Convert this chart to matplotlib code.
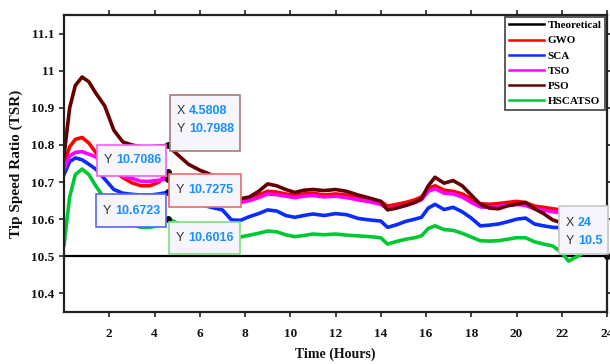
import matplotlib
matplotlib.use("Agg")
import matplotlib.pyplot as plt
from matplotlib.patches import Rectangle
from matplotlib.transforms import IdentityTransform

# ---------------- data ----------------
time_h = [0, 0.25, 0.5, 0.8, 1.1, 1.4, 1.8, 2.2, 2.6, 3.0, 3.4, 3.8, 4.2, 4.5808,
          5.0, 5.5, 6.0, 6.5, 7.0, 7.4, 7.8, 8.2, 8.6, 9.0, 9.4, 9.8, 10.2, 10.6,
          11.0, 11.5, 12.0, 12.5, 13.0, 13.5, 14.0, 14.3, 14.7, 15.1, 15.5, 15.8,
          16.1, 16.4, 16.8, 17.2, 17.6, 18.0, 18.4, 18.8, 19.2, 19.6, 20.0, 20.4,
          20.8, 21.2, 21.6, 22.0, 22.3, 22.6, 23.0, 23.5, 24.0]

theo_time = [0, 24]
theo_tsr = [10.5, 10.5]

gwo = [10.75, 10.795, 10.815, 10.82, 10.805, 10.78, 10.752, 10.73, 10.712, 10.698, 10.69, 10.69, 10.70, 10.7275,
       10.70, 10.685, 10.675, 10.665, 10.655, 10.648, 10.652, 10.657, 10.665, 10.675, 10.673, 10.668, 10.664, 10.668,
       10.67, 10.665, 10.668, 10.665, 10.66, 10.655, 10.648, 10.635, 10.64, 10.645, 10.652, 10.66,
       10.683, 10.69, 10.678, 10.675, 10.668, 10.655, 10.642, 10.64, 10.642, 10.645, 10.648, 10.645,
       10.635, 10.632, 10.628, 10.625, 10.623, 10.62, 10.618, 10.62, 10.626]

sca = [10.72, 10.755, 10.765, 10.76, 10.748, 10.735, 10.708, 10.68, 10.67, 10.667, 10.665, 10.665, 10.668, 10.6723,
       10.66, 10.648, 10.64, 10.632, 10.625, 10.598, 10.597, 10.607, 10.615, 10.625, 10.622, 10.61, 10.605, 10.61,
       10.614, 10.61, 10.615, 10.612, 10.602, 10.598, 10.595, 10.578, 10.585, 10.594, 10.60, 10.605,
       10.63, 10.64, 10.626, 10.632, 10.62, 10.603, 10.582, 10.584, 10.587, 10.593, 10.60, 10.603,
       10.587, 10.582, 10.578, 10.577, 10.576, 10.576, 10.576, 10.577, 10.578]

tso = [10.735, 10.77, 10.78, 10.782, 10.775, 10.768, 10.745, 10.728, 10.716, 10.71, 10.702, 10.702, 10.705, 10.7086,
       10.69, 10.675, 10.665, 10.655, 10.648, 10.643, 10.645, 10.65, 10.658, 10.668, 10.666, 10.662, 10.658, 10.662,
       10.664, 10.66, 10.662, 10.658, 10.652, 10.647, 10.64, 10.628, 10.632, 10.637, 10.645, 10.652,
       10.675, 10.682, 10.67, 10.668, 10.66, 10.645, 10.633, 10.632, 10.634, 10.637, 10.64, 10.637,
       10.628, 10.624, 10.62, 10.617, 10.615, 10.613, 10.612, 10.613, 10.615]

pso = [10.77, 10.90, 10.96, 10.983, 10.97, 10.94, 10.905, 10.84, 10.808, 10.80, 10.795, 10.795, 10.797, 10.7988,
       10.775, 10.748, 10.732, 10.72, 10.69, 10.655, 10.655, 10.66, 10.675, 10.695, 10.69, 10.68, 10.672, 10.678,
       10.68, 10.677, 10.68, 10.675, 10.665, 10.657, 10.648, 10.625, 10.63, 10.637, 10.645, 10.655,
       10.69, 10.713, 10.697, 10.704, 10.69, 10.665, 10.64, 10.63, 10.628, 10.636, 10.64, 10.645,
       10.628, 10.615, 10.598, 10.59, 10.588, 10.59, 10.59, 10.592, 10.593]

hscatso = [10.53, 10.66, 10.72, 10.735, 10.72, 10.69, 10.655, 10.63, 10.606, 10.585, 10.578, 10.578, 10.583, 10.6016,
           10.59, 10.58, 10.572, 10.565, 10.558, 10.552, 10.552, 10.557, 10.562, 10.568, 10.566, 10.558, 10.553, 10.556,
           10.56, 10.558, 10.56, 10.557, 10.555, 10.553, 10.55, 10.533, 10.54, 10.546, 10.55, 10.555,
           10.575, 10.582, 10.572, 10.57, 10.562, 10.552, 10.542, 10.541, 10.542, 10.546, 10.55, 10.55,
           10.539, 10.533, 10.528, 10.51, 10.487, 10.497, 10.51, 10.515, 10.52]

series_names = ["Theoretical", "GWO", "SCA", "TSO", "PSO", "HSCATSO"]
series_colors = ["#000000", "#ff0000", "#0a2cff", "#ff00ff", "#660000", "#00c832"]

xtick_vals = [2, 4, 6, 8, 10, 12, 14, 16, 18, 20, 22, 24]
ytick_vals = [10.4, 10.5, 10.6, 10.7, 10.8, 10.9, 11.0, 11.1]
ytick_labels = ["10.4", "10.5", "10.6", "10.7", "10.8", "10.9", "11", "11.1"]

# data tips: (x, y, show_x, edge colour, box offsets l, r, top, bottom in px; image y downward)
tip_idx = 13
tips = [
    (time_h[tip_idx], pso[tip_idx], True, "#a87a78", (2.5, 72.5, -50.5, 5.5)),
    (time_h[tip_idx], tso[tip_idx], False, "#f060f0", (-70.5, -1.5, -34, -3)),
    (time_h[tip_idx], gwo[tip_idx], False, "#f06a6a", (1.5, 73.5, 2, 35)),
    (time_h[tip_idx], sca[tip_idx], False, "#5a64f0", (-71.5, -1.5, 2, 35)),
    (time_h[tip_idx], hscatso[tip_idx], False, "#7ee07e", (1.5, 72.5, 3, 35)),
    (theo_time[1], theo_tsr[1], True, "#c8c8c8", (-48, 1, -50, -2)),
]

# ---------------- figure ----------------
fig = plt.figure(figsize=(6.10, 3.64), dpi=100)
ax = fig.add_axes([64 / 610, 1 - 312 / 364, (607 - 64) / 610, (312 - 15) / 364])

serif = "Liberation Serif"
ax.plot(theo_time, theo_tsr, color=series_colors[0], lw=1.6, label=series_names[0])
for vals, name, col in zip([gwo, sca, tso, pso, hscatso], series_names[1:], series_colors[1:]):
    ax.plot(time_h, vals, color=col, lw=2.6, label=name, solid_joinstyle="round")

ax.set_xlim(0, 24)
ax.set_ylim(10.35, 11.15)
ax.set_xticks(xtick_vals)
ax.set_xticklabels([str(v) for v in xtick_vals])
ax.set_yticks(ytick_vals)
ax.set_yticklabels(ytick_labels)
ax.tick_params(direction="out", length=3.8, width=1.2, top=True, right=True,
               labeltop=False, labelright=False, colors="#222222")
ax.tick_params(axis="x", pad=8)
ax.tick_params(axis="y", pad=3)
for lab in ax.get_xticklabels() + ax.get_yticklabels():
    lab.set_fontfamily(serif)
    lab.set_fontweight("bold")
    lab.set_fontsize(9.5)
    lab.set_color("#111111")
for sp in ax.spines.values():
    sp.set_linewidth(1.6)
    sp.set_color("#222222")

ax.set_xlabel("Time (Hours)", fontfamily=serif, fontweight="bold", fontsize=10, color="#111111")
ax.xaxis.set_label_coords(0.5, -0.118)
ax.set_ylabel("Tip Speed Ratio (TSR)", fontfamily=serif, fontweight="bold", fontsize=11, color="#111111")
ax.yaxis.set_label_coords(-0.0755, 0.5)

leg = ax.legend(loc="upper right", frameon=True, fancybox=False, borderaxespad=0.15,
                prop={"family": serif, "weight": "bold", "size": 8},
                handlelength=3.2, handletextpad=0.3, labelspacing=0.48, borderpad=0.35)
leg.get_frame().set_edgecolor("#222222")
leg.get_frame().set_linewidth(1.3)
for line in leg.get_lines():
    line.set_linewidth(1.8)

# ---------------- data tips ----------------
fig.canvas.draw()
for (x, y, show_x, ec, (l, r, t, b)) in tips:
    px, py = ax.transData.transform((x, y))
    ax.plot([x], [y], "o", color="#111111", ms=4, zorder=6, clip_on=False)
    x0 = px + l
    y0 = py - b
    rect = Rectangle((x0, y0), r - l, b - t, transform=IdentityTransform(),
                     facecolor="#f5f5fb", edgecolor=ec, lw=1.2, zorder=7, clip_on=False)
    fig.add_artist(rect)
    top = py - t
    if show_x:
        lines = [("X", f"{x:.4f}".rstrip("0").rstrip(".")), ("Y", f"{y:.4f}".rstrip("0").rstrip("."))]
        ys = [top - 16.5, top - 34.5]
    else:
        lines = [("Y", f"{y:.4f}".rstrip("0").rstrip("."))]
        ys = [(top + y0) / 2]
    for (k, v), yy in zip(lines, ys):
        fig.text(x0 + 7, yy, k, transform=IdentityTransform(), fontfamily="Liberation Sans",
                 fontsize=9, color="#333333", va="center", ha="left", zorder=8)
        fig.text(x0 + 19, yy, v, transform=IdentityTransform(), fontfamily="Liberation Sans",
                 fontsize=9, fontweight="bold", color="#1a8fff", va="center", ha="left", zorder=8)

fig.savefig("out.png", dpi=100)
